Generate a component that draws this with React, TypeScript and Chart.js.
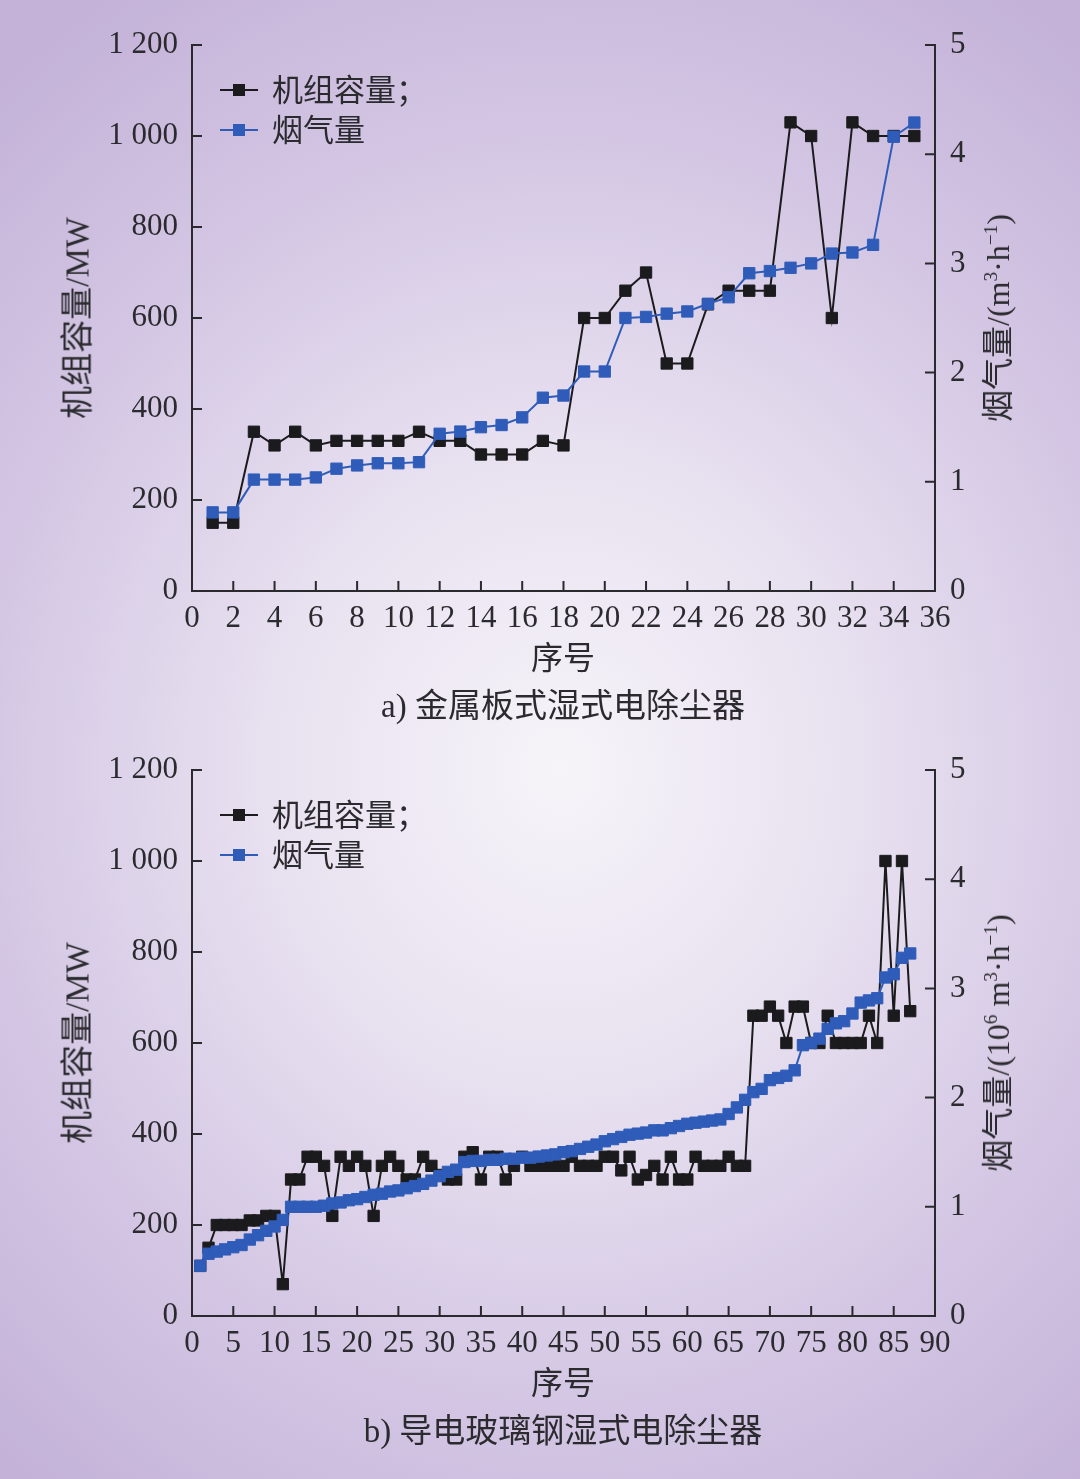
import React, { useEffect, useRef } from 'react';
import { Chart, registerables } from 'chart.js';

Chart.register(...registerables);

// ---------- data: panel a) 金属板式湿式电除尘器 ----------
const capacityA = [150, 150, 350, 320, 350, 320, 330, 330, 330, 330, 350, 330, 330, 300, 300, 300, 330, 320, 600, 600, 660, 700, 500, 500, 630, 660, 660, 660, 1030, 1000, 600, 1030, 1000, 1000, 1000];
const flueA = [0.72, 0.72, 1.02, 1.02, 1.02, 1.04, 1.12, 1.15, 1.17, 1.17, 1.18, 1.44, 1.46, 1.5, 1.52, 1.59, 1.77, 1.79, 2.01, 2.01, 2.5, 2.51, 2.54, 2.56, 2.63, 2.69, 2.91, 2.93, 2.96, 3.0, 3.09, 3.1, 3.17, 4.16, 4.29];

// ---------- data: panel b) 导电玻璃钢湿式电除尘器 ----------
const capacityB = [
  110, 150, 200, 200, 200, 200, 210, 210, 220, 220,
  70, 300, 300, 350, 350, 330, 220, 350, 330, 350,
  330, 220, 330, 350, 330, 300, 300, 350, 330, 310,
  300, 300, 350, 360, 300, 350, 350, 300, 330, 350,
  330, 330, 330, 330, 330, 350, 330, 330, 330, 350,
  350, 320, 350, 300, 310, 330, 300, 350, 300, 300,
  350, 330, 330, 330, 350, 330, 330, 660, 660, 680,
  660, 600, 680, 680, 600, 600, 660, 600, 600, 600,
  600, 660, 600, 1000, 660, 1000, 670,
];
const flueB = [
  0.46, 0.57, 0.59, 0.61, 0.63, 0.65, 0.7, 0.74, 0.78, 0.82,
  0.88, 1.0, 1.0, 1.0, 1.0, 1.01, 1.03, 1.04, 1.06, 1.07,
  1.09, 1.11, 1.12, 1.14, 1.15, 1.17, 1.19, 1.21, 1.24, 1.28,
  1.32, 1.34, 1.41, 1.42, 1.42, 1.43, 1.43, 1.44, 1.44, 1.45,
  1.45, 1.46, 1.47, 1.48, 1.5, 1.51, 1.53, 1.55, 1.57, 1.6,
  1.62, 1.64, 1.66, 1.67, 1.68, 1.7, 1.7, 1.72, 1.74, 1.76,
  1.77, 1.78, 1.79, 1.8, 1.85, 1.91, 1.98, 2.05, 2.08, 2.16,
  2.18, 2.2, 2.25, 2.48, 2.5, 2.54, 2.63, 2.68, 2.7, 2.77,
  2.87, 2.89, 2.91, 3.1, 3.13, 3.28, 3.32,
];

// ---------- tick labels ----------
const leftTickLabels = ['0', '200', '400', '600', '800', '1 000', '1 200'];
const rightTickLabels = ['0', '1', '2', '3', '4', '5'];

const legendLabels = ['机组容量；', '烟气量'];
const leftTitle = '机组容量/MW';
const xTitle = '序号';
const captionA = 'a) 金属板式湿式电除尘器';
const captionB = 'b) 导电玻璃钢湿式电除尘器';

const BLACK = '#1b1b1d';
const BLUE = '#2f5cb9';
const AXIS = '#2a2a2e';
const TEXT = '#2b2b2f';
const SERIF = '"Liberation Serif", "Noto Sans CJK SC", serif';
const CJK = '"Liberation Serif", "Noto Sans CJK SC", sans-serif';

const innerTicks = {
  id: 'innerTicks',
  afterDraw(chart: any) {
    const { ctx, chartArea } = chart;
    const { left, right, bottom } = chartArea;
    const len = 10;
    ctx.save();
    ctx.strokeStyle = AXIS;
    ctx.lineWidth = 2;
    ctx.beginPath();
    const x = chart.scales.x;
    x.ticks.forEach((t: any) => {
      const px = x.getPixelForValue(t.value);
      if (px > left + 2 && px < right - 2) {
        ctx.moveTo(px, bottom);
        ctx.lineTo(px, bottom - len);
      }
    });
    const y = chart.scales.y;
    y.ticks.forEach((t: any) => {
      const py = y.getPixelForValue(t.value);
      if (py < bottom - 2) {
        ctx.moveTo(left, py);
        ctx.lineTo(left + len, py);
      }
    });
    const y1 = chart.scales.y1;
    y1.ticks.forEach((t: any) => {
      const py = y1.getPixelForValue(t.value);
      if (py < bottom - 2) {
        ctx.moveTo(right, py);
        ctx.lineTo(right - len, py);
      }
    });
    ctx.stroke();
    ctx.restore();
  },
};

const CANVAS_W = 1080;
const CANVAS_H = 740;

type PanelProps = {
  offset: number;
  capacity: number[];
  flue: number[];
  xMax: number;
  xStep: number;
  rightTitle: React.ReactNode;
  caption: string;
};

function Panel({ offset, capacity, flue, xMax, xStep, rightTitle, caption }: PanelProps) {
  const ref = useRef<HTMLCanvasElement>(null);

  useEffect(() => {
    const tickFont = { family: '"Liberation Serif", serif', size: 31 };
    const chart = new Chart(ref.current as HTMLCanvasElement, {
      type: 'line',
      data: {
        datasets: [
          {
            label: legendLabels[1],
            data: flue.map((v, i) => ({ x: i + 1, y: v })),
            yAxisID: 'y1',
            borderColor: BLUE,
            backgroundColor: BLUE,
            pointBackgroundColor: BLUE,
            pointBorderColor: BLUE,
            pointStyle: 'rect',
            pointRadius: 8,
            pointBorderWidth: 1,
            borderWidth: 2,
            tension: 0,
            order: 0,
          },
          {
            label: legendLabels[0],
            data: capacity.map((v, i) => ({ x: i + 1, y: v })),
            yAxisID: 'y',
            borderColor: BLACK,
            backgroundColor: BLACK,
            pointBackgroundColor: BLACK,
            pointBorderColor: BLACK,
            pointStyle: 'rect',
            pointRadius: 8,
            pointBorderWidth: 1,
            borderWidth: 2,
            tension: 0,
            order: 1,
          },
        ],
      } as any,
      options: {
        responsive: false,
        animation: false,
        devicePixelRatio: 1,
        layout: { padding: { top: 45, left: 0, right: 0, bottom: 0 } },
        plugins: { legend: { display: false }, tooltip: { enabled: false } },
        scales: {
          x: {
            type: 'linear',
            min: 0,
            max: xMax,
            ticks: { stepSize: xStep, padding: 9, font: tickFont, color: TEXT, autoSkip: false, maxRotation: 0 },
            grid: { drawOnChartArea: false, drawTicks: false },
            border: { color: AXIS, width: 2 },
            afterFit: (s: any) => {
              s.height = CANVAS_H - 591;
            },
          },
          y: {
            type: 'linear',
            position: 'left',
            min: 0,
            max: 1200,
            ticks: {
              stepSize: 200,
              padding: 14,
              font: tickFont,
              color: TEXT,
              callback: (v: any) => leftTickLabels[Math.round(Number(v) / 200)],
            },
            grid: { drawOnChartArea: false, drawTicks: false },
            border: { color: AXIS, width: 2 },
            afterFit: (s: any) => {
              s.width = 192;
            },
          },
          y1: {
            type: 'linear',
            position: 'right',
            min: 0,
            max: 5,
            ticks: {
              stepSize: 1,
              padding: 15,
              font: tickFont,
              color: TEXT,
              callback: (v: any) => rightTickLabels[Math.round(Number(v))],
            },
            grid: { drawOnChartArea: false, drawTicks: false },
            border: { color: AXIS, width: 2 },
            afterFit: (s: any) => {
              s.width = CANVAS_W - 935;
            },
          },
        },
      } as any,
      plugins: [innerTicks],
    });
    return () => chart.destroy();
  }, []);

  const rot = (cx: number, cy: number, size: number): React.CSSProperties => ({
    position: 'absolute',
    left: cx,
    top: offset + cy,
    transform: 'translate(-50%, -50%) rotate(-90deg)',
    whiteSpace: 'nowrap',
    fontSize: size,
    lineHeight: 1,
    fontFamily: CJK,
    color: TEXT,
  });

  const legendRow = (cy: number, color: string, text: string) => (
    <div style={{ position: 'absolute', left: 220, top: offset + cy - 20, height: 40, display: 'flex', alignItems: 'center' }}>
      <div style={{ position: 'relative', width: 38, height: 40 }}>
        <div style={{ position: 'absolute', left: 0, top: 19, width: 38, height: 2, background: color }} />
        <div style={{ position: 'absolute', left: 13, top: 14, width: 12, height: 12, background: color }} />
      </div>
      <span style={{ marginLeft: 14, fontSize: 31, fontFamily: CJK, color: TEXT, whiteSpace: 'nowrap', lineHeight: 1 }}>{text}</span>
    </div>
  );

  const centered = (cy: number, size: number): React.CSSProperties => ({
    position: 'absolute',
    left: 563,
    top: offset + cy,
    transform: 'translate(-50%, -50%)',
    fontSize: size,
    fontFamily: CJK,
    color: TEXT,
    whiteSpace: 'nowrap',
    lineHeight: 1,
  });

  return (
    <>
      <canvas
        ref={ref}
        width={CANVAS_W}
        height={CANVAS_H}
        style={{ position: 'absolute', left: 0, top: offset, width: CANVAS_W, height: CANVAS_H }}
      />
      {legendRow(90, BLACK, legendLabels[0])}
      {legendRow(130, BLUE, legendLabels[1])}
      <div style={rot(78, 318, 33)}>{leftTitle}</div>
      <div style={rot(998, 318, 32)}>{rightTitle}</div>
      <div style={centered(658, 32)}>{xTitle}</div>
      <div style={centered(706, 33)}>{caption}</div>
    </>
  );
}

const sup: React.CSSProperties = { fontSize: '0.6em', verticalAlign: '0.6em', lineHeight: 0 };

export default function App() {
  return (
    <div
      style={{
        position: 'relative',
        width: 1080,
        height: 1479,
        overflow: 'hidden',
        background:
          'radial-gradient(ellipse 78% 62% at 52% 52%, #f6f4f9 0%, #e8e1f0 35%, #d4c7e4 68%, #c4b2d8 100%)',
        fontFamily: SERIF,
      }}
    >
      <style>{'body{margin:0}'}</style>
      <Panel
        offset={0}
        capacity={capacityA}
        flue={flueA}
        xMax={36}
        xStep={2}
        rightTitle={
          <span>
            烟气量/(m<span style={sup}>3</span>·h<span style={sup}>−1</span>)
          </span>
        }
        caption={captionA}
      />
      <Panel
        offset={725}
        capacity={capacityB}
        flue={flueB}
        xMax={90}
        xStep={5}
        rightTitle={
          <span>
            烟气量/(10<span style={sup}>6</span> m<span style={sup}>3</span>·h<span style={sup}>−1</span>)
          </span>
        }
        caption={captionB}
      />
    </div>
  );
}
